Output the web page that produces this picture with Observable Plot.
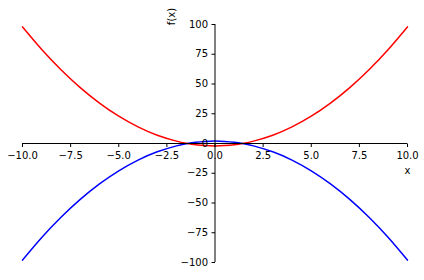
<!DOCTYPE html>
<html>
<head>
<meta charset="utf-8">
<script src="https://cdn.jsdelivr.net/npm/d3@7"></script>
<script src="https://cdn.jsdelivr.net/npm/@observablehq/plot@0.6"></script>
<style>
  html, body { margin: 0; padding: 0; background: #fff; }
  svg { display: block; }
</style>
</head>
<body>
<div id="chart"></div>
<script>
// Values
const xs = [-10, -9, -8, -7, -6, -5, -4, -3, -2, -1.5, -1, -0.5, 0, 0.5, 1, 1.5, 2, 3, 4, 5, 6, 7, 8, 9, 10];
const redY = [98, 79, 62, 47, 34, 23, 14, 7, 2, 0.25, -1, -1.75, -2, -1.75, -1, 0.25, 2, 7, 14, 23, 34, 47, 62, 79, 98];
const blueY = [-98, -79, -62, -47, -34, -23, -14, -7, -2, -0.25, 1, 1.75, 2, 1.75, 1, -0.25, -2, -7, -14, -23, -34, -47, -62, -79, -98];
const xTicks = [-10, -7.5, -5, -2.5, 0, 2.5, 5, 7.5, 10];
const xTickLabels = ["−10.0", "−7.5", "−5.0", "−2.5", "0.0", "2.5", "5.0", "7.5", "10.0"];
const yTicks = [-100, -75, -50, -25, 0, 25, 50, 75, 100];
const yTickLabels = ["−100", "−75", "−50", "−25", "0", "25", "50", "75", "100"];

const red = xs.map((x, i) => ({x, y: redY[i]}));
const blue = xs.map((x, i) => ({x, y: blueY[i]}));
const xT = xTicks.map((v, i) => ({v, label: xTickLabels[i]}));
const yT = yTicks.map((v, i) => ({v, label: yTickLabels[i]}));

const downTick = {draw(ctx) { ctx.moveTo(0, 0); ctx.lineTo(0, 3.5); }};
const leftTick = {draw(ctx) { ctx.moveTo(0, 0); ctx.lineTo(-3.5, 0); }};

const chart = Plot.plot({
  width: 424,
  height: 280,
  marginLeft: 22,
  marginRight: 17,
  marginTop: 24,
  marginBottom: 18,
  style: {fontFamily: "DejaVu Sans", fontSize: "10px", background: "white", overflow: "visible"},
  x: {domain: [-10, 10], axis: null},
  y: {domain: [-100, 100], axis: null},
  marks: [
    Plot.line(red, {x: "x", y: "y", stroke: "#ff0000", strokeWidth: 1.5, curve: "natural"}),
    Plot.line(blue, {x: "x", y: "y", stroke: "#0000ff", strokeWidth: 1.5, curve: "natural"}),
    Plot.ruleY([0], {x1: -10, x2: 10, stroke: "black", strokeWidth: 1}),
    Plot.ruleX([0], {y1: -100, y2: 100, stroke: "black", strokeWidth: 1}),
    Plot.dot(xT, {x: "v", y: () => 0, symbol: downTick, r: 3, fill: "none", stroke: "black", strokeWidth: 1}),
    Plot.dot(yT, {x: () => 0, y: "v", symbol: leftTick, r: 3, fill: "none", stroke: "black", strokeWidth: 1}),
    Plot.text(xT, {x: "v", y: () => 0, text: "label", dy: 12, fill: "black", fontSize: 10}),
    Plot.text(yT, {x: () => 0, y: "v", text: "label", dx: -7, textAnchor: "end", fill: "black", fontSize: 10}),
    Plot.text(["x"], {x: () => 10, y: () => 0, text: d => d, dy: 27, fill: "black", fontSize: 10}),
    Plot.text(["f(x)"], {x: () => 0, y: () => 100, text: d => d, dx: -43, dy: -8, rotate: -90, fill: "black", fontSize: 10})
  ]
});
document.getElementById("chart").appendChild(chart);
</script>
</body>
</html>
